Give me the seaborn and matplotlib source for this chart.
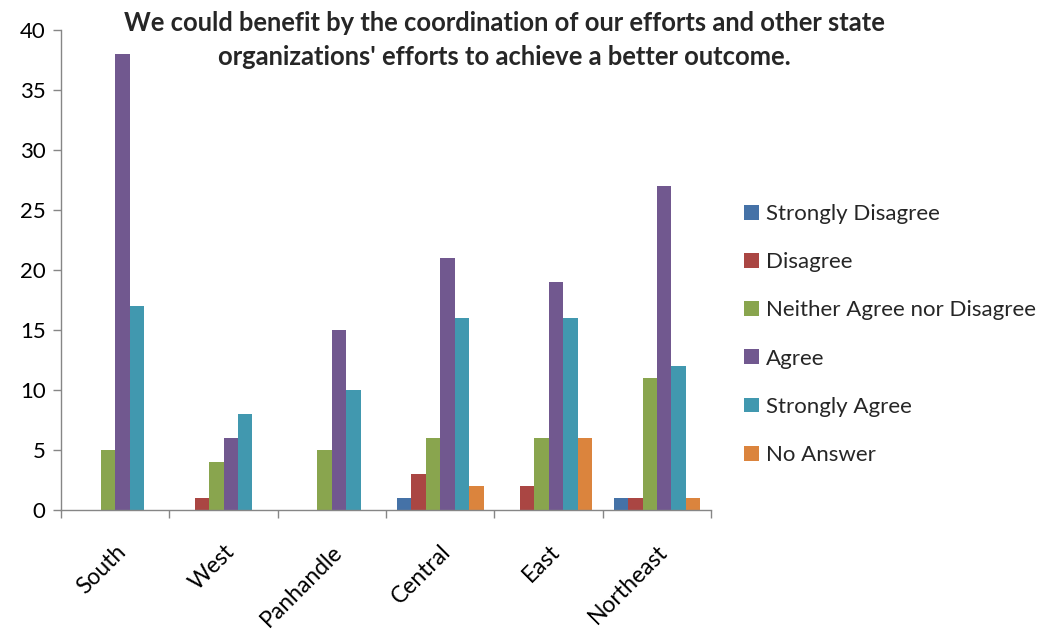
import matplotlib
matplotlib.use("Agg")
import matplotlib.pyplot as plt
from matplotlib.patches import Patch
import seaborn as sns
import pandas as pd

regions = ["South", "West", "Panhandle", "Central", "East", "Northeast"]
responses = ["Strongly Disagree", "Disagree", "Neither Agree nor Disagree",
             "Agree", "Strongly Agree", "No Answer"]
strongly_disagree = [0, 0, 0, 1, 0, 1]
disagree = [0, 1, 0, 3, 2, 1]
neither = [5, 4, 5, 6, 6, 11]
agree = [38, 6, 15, 21, 19, 27]
strongly_agree = [17, 8, 10, 16, 16, 12]
no_answer = [0, 0, 0, 2, 6, 1]
y_ticks = [0, 5, 10, 15, 20, 25, 30, 35, 40]
title = ("We could benefit by the coordination of our efforts and other state\n"
         "organizations' efforts to achieve a better outcome.")

colors = ["#4572A7", "#AA4643", "#89A54E", "#71588F", "#4198AF", "#DB843D"]

series = [strongly_disagree, disagree, neither, agree, strongly_agree, no_answer]
rows = []
for resp, vals in zip(responses, series):
    for reg, v in zip(regions, vals):
        rows.append({"Region": reg, "Response": resp, "Count": v})
df = pd.DataFrame(rows)

sns.set_theme(style="white")
plt.rcParams["font.family"] = ["Lato", "DejaVu Sans"]

fig = plt.figure(figsize=(10.42, 6.3), dpi=100)
ax = fig.add_axes([0.0585, 0.19, 0.624, 0.762])

sns.barplot(data=df, x="Region", y="Count", hue="Response",
            order=regions, hue_order=responses, palette=colors,
            width=0.8, linewidth=0, saturation=1, legend=False, ax=ax)

ax.set_xlim(-0.5, len(regions) - 0.5)
ax.set_ylim(0, 40)
ax.set_yticks(y_ticks)
ax.set_xlabel("")
ax.set_ylabel("")

gray = "#868686"
for side in ("top", "right"):
    ax.spines[side].set_visible(False)
for side in ("left", "bottom"):
    ax.spines[side].set_color(gray)
    ax.spines[side].set_linewidth(1.0)

ax.tick_params(axis="y", which="major", length=6, width=1, color=gray,
               direction="out", labelsize=16, labelcolor="#000000", pad=5, left=True)
ax.set_xticks(range(len(regions)))
ax.set_xticklabels(regions, rotation=45, ha="right", rotation_mode="anchor",
                   fontsize=16.5, color="#000000")
ax.tick_params(axis="x", which="major", length=0, pad=22)
ax.set_xticks([i - 0.5 for i in range(len(regions) + 1)], minor=True)
ax.tick_params(axis="x", which="minor", length=6, width=1, color=gray,
               direction="out", bottom=True)

handles = [Patch(facecolor=c, edgecolor="none") for c in colors]
fig.legend(handles, responses, loc="center left", bbox_to_anchor=(0.695, 0.469),
           frameon=False, fontsize=16, handlelength=0.65, handleheight=0.65,
           handletextpad=0.35, labelspacing=1.27)

fig.text(0.484, 0.937, title, ha="center", va="center", fontsize=18.4,
         fontweight="bold", linespacing=1.5)

fig.savefig("out.png", dpi=100, facecolor="white")
